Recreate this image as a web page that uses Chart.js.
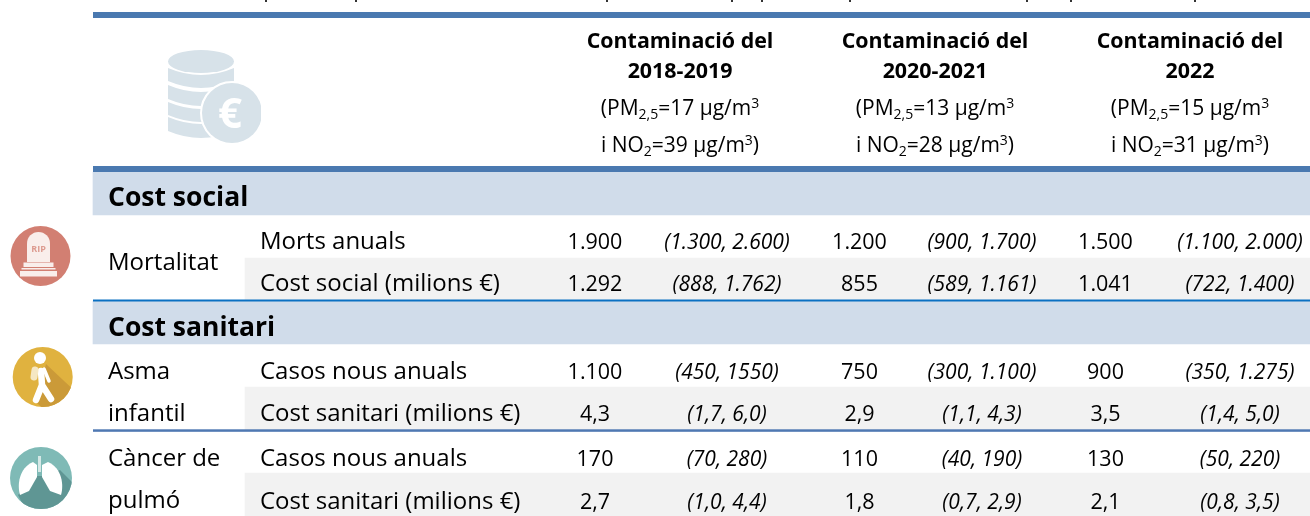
<!DOCTYPE html>
<html><head><meta charset="utf-8">
<style>html,body{margin:0;padding:0;background:#fff}#w{position:relative;width:1310px;height:516px}canvas{display:block}</style>
<script src="https://cdn.jsdelivr.net/npm/chart.js@4/dist/chart.umd.js"></script>
</head><body><div id="w"><canvas id="c" width="1310" height="516"></canvas></div>
<script>
const rowKeys = ['h1','h2','h3','h4','Cost social','Morts','Social','Cost sanitari','AsmaCasos','AsmaCost','PulmoCasos','PulmoCost'];
const periods = [['Contaminació del','2018-2019'],['Contaminació del','2020-2021'],['Contaminació del','2022']];
const pm25 = ['17','13','15'];
const no2 = ['39','28','31'];
const sectionRows = ['Cost social','Cost sanitari'];
const shadedRows = ['Social','AsmaCost','PulmoCost'];
const groupLabels = [['Mortalitat',null],['Asma','infantil'],['Càncer de','pulmó']];
const measureLabels = ['Morts anuals','Cost social (milions €)','Casos nous anuals','Cost sanitari (milions €)','Casos nous anuals','Cost sanitari (milions €)'];
const measureRows = ['Morts','Social','AsmaCasos','AsmaCost','PulmoCasos','PulmoCost'];
const central2018 = ['1.900','1.292','1.100','4,3','170','2,7'];
const range2018 = ['(1.300, 2.600)','(888, 1.762)','(450, 1550)','(1,7, 6,0)','(70, 280)','(1,0, 4,4)'];
const central2020 = ['1.200','855','750','2,9','110','1,8'];
const range2020 = ['(900, 1.700)','(589, 1.161)','(300, 1.100)','(1,1, 4,3)','(40, 190)','(0,7, 2,9)'];
const central2022 = ['1.500','1.041','900','3,5','130','2,1'];
const range2022 = ['(1.100, 2.000)','(722, 1.400)','(350, 1.275)','(1,4, 5,0)','(50, 220)','(0,8, 3,5)'];

const FONT='"Open Sans"';
const colX={group:108,measure:260,c:[595,859.5,1105.5],r:[727,982,1240],head:[680,935,1190]};
const tableLeft=93,tableRight=1310,shadeLeft=245;
const baselineOffset=[12.6,11.3,13.7,12.5,14.5,14];
const croppedMarks=[266,356,607,732,762,850,1027,1071,1195];

function text(ctx,s,x,y,font,align,color){ctx.font=font;ctx.textAlign=align||'left';ctx.textBaseline='alphabetic';ctx.fillStyle=color||'#000';ctx.fillText(s,x,y);}
function mixed(ctx,parts,cx,y){
  const fs=p=>(p[1]?14:21)+'px '+FONT;
  let w=0;parts.forEach(p=>{ctx.font=fs(p);w+=ctx.measureText(p[0]).width;});
  let x=cx-w/2;ctx.textAlign='left';ctx.textBaseline='alphabetic';ctx.fillStyle='#000';
  parts.forEach(p=>{ctx.font=fs(p);ctx.fillText(p[0],x,y+(p[1]==='sub'?4:p[1]==='sup'?-7:0));x+=ctx.measureText(p[0]).width;});
}
function coins(ctx){
  ctx.save();const c='#d7e2e9';ctx.fillStyle=c;
  const l=168,r=234,m=201;
  [[68,13],[85,14],[102,13],[117,14]].forEach(([y,h])=>{
    ctx.beginPath();ctx.moveTo(l,y);ctx.quadraticCurveTo(m,y+14,r,y);ctx.lineTo(r,y+h);ctx.quadraticCurveTo(m,y+h+14,l,y+h);ctx.closePath();ctx.fill();});
  ctx.beginPath();ctx.ellipse(m,61.5,33,11.5,0,0,7);ctx.fill();
  ctx.strokeStyle='#fff';ctx.lineWidth=4;ctx.beginPath();ctx.arc(232,113,30,0,7);ctx.stroke();ctx.fill();
  ctx.fillStyle='#fff';ctx.fillRect(261,78,10,70);
  text(ctx,'€',230,128,'700 42px '+FONT,'center','#fff');ctx.restore();
}
function rip(ctx){
  const cx=40.5,cy=256,t=38.5;ctx.save();ctx.fillStyle='#d27f72';ctx.beginPath();ctx.arc(cx,cy,30,0,7);ctx.fill();
  ctx.fillStyle='#f9eeeb';ctx.beginPath();ctx.moveTo(t-11.5,262);ctx.lineTo(t-11.5,243.5);ctx.arc(t,243.5,11.5,Math.PI,0);ctx.lineTo(t+11.5,262);ctx.fill();
  ctx.fillRect(t-15,262.5,30,4.5);ctx.fillRect(t-18.5,271,37,5.5);ctx.fillRect(t-17,268,34,1.5);
  text(ctx,'RIP',t,252,'700 9px '+FONT,'center','#dd9b90');ctx.restore();
}
function walker(ctx){
  const cx=42.7,cy=377;ctx.save();ctx.fillStyle='#e0b23f';ctx.beginPath();ctx.arc(cx,cy,30,0,7);ctx.fill();
  ctx.save();ctx.beginPath();ctx.arc(cx,cy,30,0,7);ctx.clip();ctx.fillStyle='#cb9a38';ctx.beginPath();ctx.moveTo(46,364);ctx.lineTo(80,396);ctx.lineTo(55,420);ctx.lineTo(36,402);ctx.closePath();ctx.fill();ctx.restore();
  ctx.fillStyle='#fff';ctx.beginPath();ctx.arc(40,358,6,0,7);ctx.fill();
  ctx.strokeStyle='#fff';ctx.lineCap='round';ctx.lineJoin='round';ctx.lineWidth=6.5;ctx.beginPath();ctx.moveTo(41,371);ctx.lineTo(42,385);ctx.lineTo(36,400);ctx.moveTo(42,385);ctx.lineTo(51,399);ctx.stroke();
  ctx.lineWidth=3.5;ctx.beginPath();ctx.moveTo(44,369);ctx.lineTo(49,381);ctx.stroke();
  ctx.strokeStyle='#f5e7c3';ctx.lineWidth=7;ctx.beginPath();ctx.moveTo(35,370);ctx.lineTo(34,377);ctx.stroke();ctx.restore();
}
function lungs(ctx){
  const cx=41,cy=478;ctx.save();ctx.fillStyle='#7fbab6';ctx.beginPath();ctx.arc(cx,cy,31,0,7);ctx.fill();
  ctx.save();ctx.beginPath();ctx.arc(cx,cy,31,0,7);ctx.clip();ctx.fillStyle='#5f9694';ctx.beginPath();ctx.moveTo(18,495);ctx.lineTo(37,476);ctx.lineTo(44,476);ctx.lineTo(60,470);ctx.lineTo(80,490);ctx.lineTo(60,520);ctx.lineTo(28,515);ctx.closePath();ctx.fill();ctx.restore();
  ctx.fillStyle='#fff';
  ctx.beginPath();ctx.moveTo(37,465);ctx.lineTo(37,477);ctx.lineTo(29,491);ctx.lineTo(20,495);ctx.bezierCurveTo(17,485,19,468,33,462);ctx.closePath();ctx.fill();
  ctx.beginPath();ctx.moveTo(42,465);ctx.lineTo(42,477);ctx.lineTo(50,491);ctx.lineTo(61,495);ctx.bezierCurveTo(64,485,62,468,48,462);ctx.closePath();ctx.fill();
  ctx.fillStyle='#d5e8e6';ctx.fillRect(38,456,3,16);ctx.restore();
}
const tablePlugin={id:'table',afterDatasetsDraw(chart){
  const ctx=chart.ctx,y=chart.scales.y,x=chart.scales.x;
  const rowY=k=>y.getPixelForValue(rowKeys.indexOf(k));
  const rowH=y.getPixelForValue(1)-y.getPixelForValue(0);
  const L=x.getPixelForValue(tableLeft),R=x.getPixelForValue(tableRight);
  ctx.save();
  ctx.fillStyle='#333';croppedMarks.forEach(m=>ctx.fillRect(x.getPixelForValue(m)-1,0,2,2));
  ctx.fillStyle='#4a79b0';
  ctx.fillRect(L,y.getPixelForValue(0)-rowH/2+12,R-L,6);
  ctx.fillRect(L,rowY('h4')+rowH/2-6,R-L,6);
  ctx.fillStyle='#0a70c2';ctx.fillRect(L,rowY('Social')+rowH/2-1.5,R-L,2);
  ctx.fillStyle='#4f78b2';ctx.fillRect(L,rowY('AsmaCost')+rowH/2-0.7,R-L,2.5);
  periods.forEach((p,i)=>{const cx=x.getPixelForValue(colX.head[i]);
    text(ctx,p[0],cx,48.3,'700 21.4px '+FONT,'center');
    text(ctx,p[1],cx,78.3,'700 21.4px '+FONT,'center');
    mixed(ctx,[['(PM'],['2,5','sub'],['='+pm25[i]+' µg/m'],['3','sup']],cx,115);
    mixed(ctx,[['i NO'],['2','sub'],['='+no2[i]+' µg/m'],['3','sup'],[')']],cx,152.3);
  });
  text(ctx,sectionRows[0],x.getPixelForValue(colX.group),206,'700 26.5px '+FONT);
  text(ctx,sectionRows[1],x.getPixelForValue(colX.group),336,'700 26.5px '+FONT);
  const gy=[[270],[379.3,421],[466,508.3]];
  groupLabels.forEach((g,i)=>g.forEach((s,j)=>{if(s)text(ctx,s,x.getPixelForValue(colX.group),gy[i][j],'24px '+FONT);}));
  const cent=[central2018,central2020,central2022],rng=[range2018,range2020,range2022];
  measureRows.forEach((k,r)=>{const b=rowY(k)+baselineOffset[r];
    text(ctx,measureLabels[r],x.getPixelForValue(colX.measure),b,'24px '+FONT);
    for(let c=0;c<3;c++){
      text(ctx,cent[c][r],x.getPixelForValue(colX.c[c]),b,'21.5px '+FONT,'center');
      text(ctx,rng[c][r],x.getPixelForValue(colX.r[c]),b,'italic 21px '+FONT,'center');
    }});
  ctx.filter='blur(0.6px)';coins(ctx);rip(ctx);walker(ctx);lungs(ctx);ctx.filter='none';
  ctx.restore();
}};
const bandData=rowKeys.map(k=>sectionRows.includes(k)?[tableLeft,tableRight]:null);
const shadeData=rowKeys.map(k=>shadedRows.includes(k)?[shadeLeft,tableRight]:null);
new Chart(document.getElementById('c'),{
  type:'bar',
  data:{labels:rowKeys,datasets:[
    {label:'Seccions',data:bandData,backgroundColor:'#d0dcea',barPercentage:1,categoryPercentage:1,grouped:false},
    {label:'Files',data:shadeData,backgroundColor:'#f2f2f2',barPercentage:1,categoryPercentage:1,grouped:false}
  ]},
  options:{indexAxis:'y',responsive:false,animation:false,
    layout:{padding:0},
    plugins:{legend:{display:false},tooltip:{enabled:false},title:{display:false}},
    scales:{x:{type:'linear',display:false,min:0,max:1310},y:{type:'category',display:false}}
  },
  plugins:[tablePlugin]
});
</script></body></html>
